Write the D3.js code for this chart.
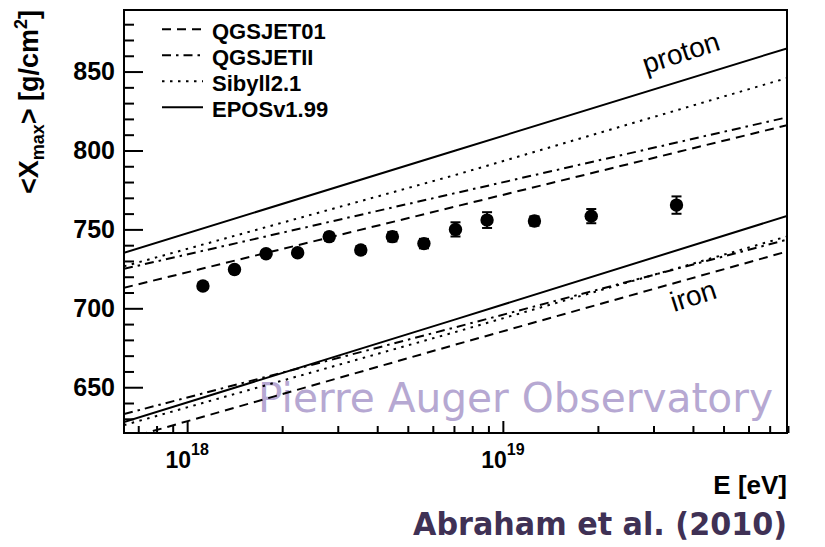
<!DOCTYPE html>
<html>
<head>
<meta charset="utf-8">
<script src="https://cdn.jsdelivr.net/npm/d3@7"></script>
<style>
  body { margin: 0; background: #fff; }
  svg { display: block; }
  text { font-family: "Liberation Sans", Arial, Helvetica, sans-serif; }
</style>
</head>
<body>
<div class="chart"></div>
<script>
const width = 825;
const height = 547;

// measured data points: log10(E/eV), <Xmax>, stat. error
const dataLgE = [18.05, 18.15, 18.25, 18.35, 18.45, 18.55, 18.65, 18.75, 18.85, 18.95, 19.10, 19.28, 19.55];
const dataXmax = [714.1, 724.6, 734.6, 735.2, 745.4, 736.9, 745.4, 741.0, 750.0, 755.9, 755.3, 758.4, 765.4];
const dataErr = [2.0, 2.0, 2.0, 2.0, 2.5, 2.5, 3.0, 3.0, 4.5, 5.0, 3.0, 4.5, 5.5];

// model predictions, read at these energies
const modelNames = ['QGSJET01', 'QGSJETII', 'Sibyll2.1', 'EPOSv1.99'];
const lineLgE = [17.8, 18.85, 19.9];
const protonQGSJET01 = [713.0, 764.5, 816.0];
const protonQGSJETII = [725.0, 773.0, 821.0];
const protonSibyll = [726.6, 784.5, 845.9];
const protonEPOS = [735.2, 800.0, 864.7];
const ironQGSJET01 = [617.0, 677.0, 736.0];
const ironQGSJETII = [633.0, 688.0, 743.5];
const ironSibyll = [626.0, 685.0, 745.5];
const ironEPOS = [628.0, 693.0, 758.5];

const yMajorTicks = [650, 700, 750, 800, 850];
const xMajorTicks = [1e18, 1e19];
const xTickExponents = ['18', '19'];

const dashes = {
  'QGSJET01': '9,6',
  'QGSJETII': '9,5,2.5,5',
  'Sibyll2.1': '2.5,5.5',
  'EPOSv1.99': null
};

const frame = { left: 124, right: 787, top: 10, bottom: 433 };

const svg = d3.select('.chart')
  .append('svg')
  .attr('width', width)
  .attr('height', height);

const xScale = d3.scaleLog()
  .domain([Math.pow(10, 17.8), Math.pow(10, 19.9)])
  .range([frame.left, frame.right]);

const yScale = d3.scaleLinear()
  .domain([621, 889])
  .range([frame.bottom, frame.top]);

svg.append('clipPath')
  .attr('id', 'clip')
  .append('rect')
  .attr('x', frame.left)
  .attr('y', frame.top)
  .attr('width', frame.right - frame.left)
  .attr('height', frame.bottom - frame.top);

// watermark behind everything
svg.append('text')
  .attr('x', 258)
  .attr('y', 412)
  .attr('textLength', 515)
  .attr('lengthAdjust', 'spacingAndGlyphs')
  .style('font-family', '"DejaVu Sans", sans-serif')
  .style('font-size', '40px')
  .style('fill', '#b6a8d2')
  .text('Pierre Auger Observatory');

// model lines
const modelLines = [
  { name: 'QGSJET01', values: protonQGSJET01 },
  { name: 'QGSJETII', values: protonQGSJETII },
  { name: 'Sibyll2.1', values: protonSibyll },
  { name: 'EPOSv1.99', values: protonEPOS },
  { name: 'QGSJET01', values: ironQGSJET01 },
  { name: 'QGSJETII', values: ironQGSJETII },
  { name: 'Sibyll2.1', values: ironSibyll },
  { name: 'EPOSv1.99', values: ironEPOS }
];

const line = d3.line()
  .x((d) => xScale(Math.pow(10, d[0])))
  .y((d) => yScale(d[1]));

svg.append('g')
  .attr('clip-path', 'url(#clip)')
  .selectAll('path')
  .data(modelLines)
  .enter()
  .append('path')
  .attr('d', (m) => line(lineLgE.map((lg, i) => [lg, m.values[i]])))
  .attr('fill', 'none')
  .attr('stroke', '#000')
  .attr('stroke-width', 2)
  .attr('stroke-dasharray', (m) => dashes[m.name]);

// axes
const yAxis = d3.axisLeft(yScale)
  .tickValues(yMajorTicks)
  .tickSizeInner(-19)
  .tickSizeOuter(0)
  .tickPadding(9);

const yMinor = d3.axisLeft(yScale)
  .tickValues(d3.range(630, 890, 10).filter((v) => v % 50 !== 0))
  .tickSizeInner(-10)
  .tickSizeOuter(0)
  .tickFormat('');

const gy = svg.append('g')
  .attr('transform', `translate(${frame.left}, 0)`)
  .call(yAxis);
svg.append('g')
  .attr('transform', `translate(${frame.left}, 0)`)
  .call(yMinor);

gy.selectAll('text')
  .style('font-size', '25px')
  .style('font-weight', 'bold')
  .style('fill', '#000');

const xMinorValues = [7e17, 8e17, 9e17]
  .concat(d3.range(2, 10).map((k) => k * 1e18))
  .concat(d3.range(2, 9).map((k) => k * 1e19));

const xAxis = d3.axisBottom(xScale)
  .tickValues(xMajorTicks)
  .tickSizeInner(-12)
  .tickSizeOuter(0)
  .tickFormat('');
const xMinor = d3.axisBottom(xScale)
  .tickValues(xMinorValues)
  .tickSizeInner(-7)
  .tickSizeOuter(0)
  .tickFormat('');

svg.append('g')
  .attr('transform', `translate(0, ${frame.bottom})`)
  .call(xAxis);
svg.append('g')
  .attr('transform', `translate(0, ${frame.bottom})`)
  .call(xMinor);

svg.selectAll('.domain').remove();
svg.selectAll('.tick line').attr('stroke', '#000').attr('stroke-width', 2);

// x tick labels 10^n
const xLabels = svg.append('g')
  .selectAll('text')
  .data(xMajorTicks)
  .enter()
  .append('text')
  .attr('x', (d) => xScale(d))
  .attr('y', 468)
  .attr('text-anchor', 'middle')
  .style('font-size', '23px')
  .style('font-weight', 'bold');
xLabels.append('tspan').text('10');
xLabels.append('tspan')
  .attr('dy', -13)
  .style('font-size', '16px')
  .text((d, i) => xTickExponents[i]);

// frame
svg.append('rect')
  .attr('x', frame.left)
  .attr('y', frame.top)
  .attr('width', frame.right - frame.left)
  .attr('height', frame.bottom - frame.top)
  .attr('fill', 'none')
  .attr('stroke', '#000')
  .attr('stroke-width', 2);

// data points
const points = dataLgE.map((lg, i) => ({ e: Math.pow(10, lg), v: dataXmax[i], err: dataErr[i] }));
const pts = svg.append('g')
  .selectAll('g')
  .data(points)
  .enter()
  .append('g');

pts.append('line')
  .attr('x1', (d) => xScale(d.e))
  .attr('x2', (d) => xScale(d.e))
  .attr('y1', (d) => yScale(d.v - d.err))
  .attr('y2', (d) => yScale(d.v + d.err))
  .attr('stroke', '#000')
  .attr('stroke-width', 2);
[-1, 1].forEach((s) => {
  pts.append('line')
    .attr('x1', (d) => xScale(d.e) - 5)
    .attr('x2', (d) => xScale(d.e) + 5)
    .attr('y1', (d) => yScale(d.v + s * d.err))
    .attr('y2', (d) => yScale(d.v + s * d.err))
    .attr('stroke', '#000')
    .attr('stroke-width', 2);
});
pts.append('circle')
  .attr('cx', (d) => xScale(d.e))
  .attr('cy', (d) => yScale(d.v))
  .attr('r', 6.7)
  .attr('fill', '#000');

// legend
const legend = svg.append('g')
  .selectAll('g')
  .data(modelNames)
  .enter()
  .append('g')
  .attr('transform', (d, i) => `translate(0, ${29.3 + i * 26})`);
legend.append('line')
  .attr('x1', 162)
  .attr('x2', 203)
  .attr('stroke', '#000')
  .attr('stroke-width', 2)
  .attr('stroke-dasharray', (d) => dashes[d]);
legend.append('text')
  .attr('x', 212)
  .attr('y', 10)
  .style('font-size', '22px')
  .style('font-weight', 'bold')
  .text((d) => d);

// primary labels
svg.append('text')
  .attr('transform', 'translate(646, 74) rotate(-18)')
  .style('font-size', '28px')
  .text('proton');
svg.append('text')
  .attr('transform', 'translate(674, 312) rotate(-18)')
  .style('font-size', '28px')
  .text('iron');

// axis titles
const yTitle = svg.append('text')
  .attr('transform', `translate(38, ${frame.top}) rotate(-90)`)
  .attr('text-anchor', 'end')
  .style('font-size', '27px')
  .style('font-weight', 'bold');
yTitle.append('tspan').text('<X');
yTitle.append('tspan').attr('dy', 6).style('font-size', '18px').text('max');
yTitle.append('tspan').attr('dy', -6).text('> [g/cm');
yTitle.append('tspan').attr('dy', -11).style('font-size', '18px').text('2');
yTitle.append('tspan').attr('dy', 11).text(']');

svg.append('text')
  .attr('x', frame.right)
  .attr('y', 494)
  .attr('text-anchor', 'end')
  .style('font-size', '26px')
  .style('font-weight', 'bold')
  .text('E [eV]');

svg.append('text')
  .attr('x', 413)
  .attr('y', 535)
  .attr('textLength', 374)
  .attr('lengthAdjust', 'spacingAndGlyphs')
  .style('font-family', '"DejaVu Sans", sans-serif')
  .style('font-size', '32px')
  .style('font-weight', 'bold')
  .style('fill', '#3f3155')
  .text('Abraham et al. (2010)');
</script>
</body>
</html>
